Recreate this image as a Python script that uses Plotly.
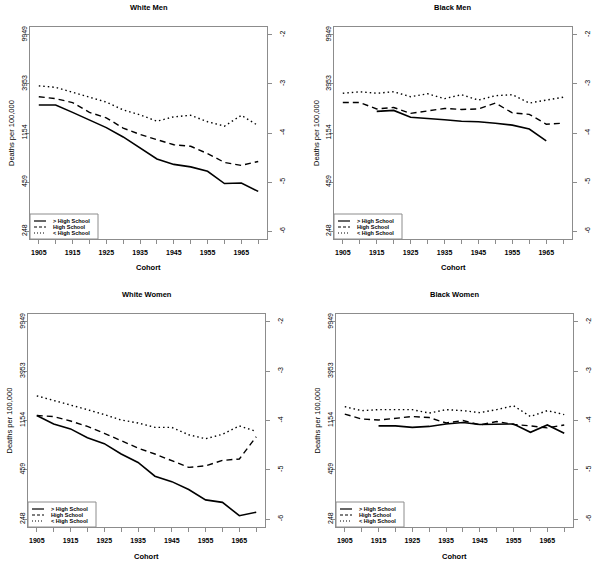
import plotly.graph_objects as go

cohorts = [1905, 1910, 1915, 1920, 1925, 1930, 1935, 1940, 1945, 1950, 1955, 1960, 1965, 1970]
group_labels = ["> High School", "High School", "< High School"]
left_tick_vals = [-2, -3, -4, -5, -6]
left_tick_text = ["9949", "3953", "1154", "459", "248"]
right_tick_text = ["-2", "-3", "-4", "-5", "-6"]
x_tick_vals = list(range(1905, 1971, 5))
x_tick_text = [str(v) if (v - 1905) % 10 == 0 else "" for v in x_tick_vals]

white_men_gt = [-3.43, -3.43, -3.58, -3.73, -3.89, -4.08, -4.31, -4.53, -4.64, -4.69, -4.78, -5.03, -5.02, -5.19]
white_men_hs = [-3.26, -3.30, -3.38, -3.58, -3.69, -3.90, -4.03, -4.14, -4.24, -4.27, -4.42, -4.60, -4.66, -4.58]
white_men_lt = [-3.04, -3.07, -3.17, -3.27, -3.37, -3.53, -3.63, -3.76, -3.67, -3.64, -3.77, -3.86, -3.64, -3.85]

black_men_gt = [None, None, -3.56, -3.54, -3.68, -3.70, -3.73, -3.76, -3.77, -3.80, -3.84, -3.92, -4.16, None]
black_men_hs = [-3.38, -3.38, -3.51, -3.48, -3.60, -3.55, -3.50, -3.52, -3.51, -3.39, -3.59, -3.62, -3.82, -3.80]
black_men_lt = [-3.19, -3.16, -3.19, -3.16, -3.26, -3.20, -3.30, -3.22, -3.33, -3.24, -3.22, -3.39, -3.33, -3.27]

white_women_gt = [-3.90, -4.07, -4.17, -4.35, -4.47, -4.68, -4.85, -5.13, -5.24, -5.40, -5.61, -5.66, -5.93, -5.86]
white_women_hs = [-3.90, -3.92, -4.01, -4.12, -4.26, -4.41, -4.56, -4.68, -4.81, -4.95, -4.92, -4.81, -4.78, -4.33]
white_women_lt = [-3.50, -3.59, -3.68, -3.78, -3.88, -3.99, -4.05, -4.14, -4.14, -4.29, -4.37, -4.28, -4.11, -4.22]

black_women_gt = [None, None, -4.11, -4.11, -4.14, -4.12, -4.07, -4.04, -4.08, -4.08, -4.07, -4.24, -4.09, -4.26]
black_women_hs = [-3.87, -3.97, -3.99, -3.95, -3.92, -3.94, -4.05, -4.00, -4.09, -4.02, -4.08, -4.11, -4.15, -4.09]
black_women_lt = [-3.72, -3.80, -3.78, -3.78, -3.78, -3.85, -3.78, -3.80, -3.84, -3.78, -3.70, -3.92, -3.80, -3.88]

W, H = 601, 565
FONT = "Liberation Sans, Arial, sans-serif"
GRAY = "#8c8c8c"

panels = [
    dict(title="White Men", series=[white_men_gt, white_men_hs, white_men_lt],
         px=(30, 267), py=(27, 239), ylab_x=11),
    dict(title="Black Men", series=[black_men_gt, black_men_hs, black_men_lt],
         px=(334, 572), py=(27, 239), ylab_x=316),
    dict(title="White Women", series=[white_women_gt, white_women_hs, white_women_lt],
         px=(28, 265), py=(314, 527), ylab_x=9),
    dict(title="Black Women", series=[black_women_gt, black_women_hs, black_women_lt],
         px=(336, 573), py=(314, 527), ylab_x=317),
]

dashes = ["solid", "6px,4px", "1.5px,3px"]

fig = go.Figure()
layout = dict(
    width=W, height=H, margin=dict(l=0, r=0, t=0, b=0),
    paper_bgcolor="white", plot_bgcolor="white", showlegend=False,
    font=dict(family=FONT, size=7, color="black"),
)
annotations = []
shapes = []

for i, p in enumerate(panels, start=1):
    xa = "x" if i == 1 else f"x{i}"
    yl_n = 2 * i - 1
    yr_n = 2 * i
    yl = "y" if yl_n == 1 else f"y{yl_n}"
    yr = f"y{yr_n}"
    xdom = [p["px"][0] / W, p["px"][1] / W]
    ydom = [1 - p["py"][1] / H, 1 - p["py"][0] / H]

    for vals, dash, name in zip(p["series"], dashes, group_labels):
        fig.add_trace(go.Scatter(
            x=cohorts, y=vals, mode="lines", name=name,
            line=dict(color="black", width=1.4 if dash != "solid" else 1.6, dash=dash),
            xaxis=xa, yaxis=yl, connectgaps=False, hoverinfo="skip"))
    # invisible trace so the right-hand axis gets drawn
    fig.add_trace(go.Scatter(x=[cohorts[0]], y=[left_tick_vals[0]], mode="markers",
                             marker=dict(opacity=0), xaxis=xa, yaxis=yr,
                             hoverinfo="skip", showlegend=False))

    xkey = "xaxis" if i == 1 else f"xaxis{i}"
    ylkey = "yaxis" if yl_n == 1 else f"yaxis{yl_n}"
    yrkey = f"yaxis{yr_n}"
    layout[xkey] = dict(
        domain=xdom, anchor=yl, range=[1902.4, 1972.6],
        tickmode="array", tickvals=x_tick_vals, ticktext=x_tick_text,
        ticks="outside", ticklen=4, tickcolor=GRAY, tickwidth=1,
        showline=True, linecolor=GRAY, linewidth=1, mirror=True,
        showgrid=False, zeroline=False, ticklabelstandoff=3,
        tickfont=dict(family=FONT, size=7, color="black", weight="bold"),
    )
    layout[ylkey] = dict(
        domain=ydom, anchor=xa, range=[-6.16, -1.84],
        tickmode="array", tickvals=left_tick_vals, ticktext=left_tick_text,
        ticks="outside", ticklen=4, tickcolor=GRAY, tickwidth=1,
        showline=True, linecolor=GRAY, linewidth=1,
        showgrid=False, zeroline=False, tickangle=-90, ticklabelstandoff=-5,
        tickfont=dict(family=FONT, size=7, color="black"),
    )
    layout[yrkey] = dict(
        domain=ydom, anchor=xa, overlaying=yl, side="right", range=[-6.16, -1.84],
        tickmode="array", tickvals=left_tick_vals, ticktext=right_tick_text,
        ticks="outside", ticklen=4, tickcolor=GRAY, tickwidth=1,
        showline=True, linecolor=GRAY, linewidth=1,
        showgrid=False, zeroline=False, tickangle=-90, ticklabelstandoff=5,
        tickfont=dict(family=FONT, size=7, color="black"),
    )

    cx = (p["px"][0] + p["px"][1]) / 2 / W
    cy = 1 - (p["py"][0] + p["py"][1]) / 2 / H
    annotations.append(dict(text="<b>" + p["title"] + "</b>", x=cx, y=1 - (p["py"][0] - 20) / H,
                            xref="paper", yref="paper", showarrow=False,
                            font=dict(family=FONT, size=7.5), xanchor="center", yanchor="middle"))
    annotations.append(dict(text="<b>Cohort</b>", x=cx, y=1 - (p["py"][1] + 29) / H,
                            xref="paper", yref="paper", showarrow=False,
                            font=dict(family=FONT, size=7.5), xanchor="center", yanchor="middle"))
    annotations.append(dict(text="Deaths per 100,000", x=p["ylab_x"] / W, y=cy,
                            xref="paper", yref="paper", showarrow=False, textangle=-90,
                            font=dict(family=FONT, size=7.5), xanchor="center", yanchor="middle"))

    # legend box (bottom-left corner)
    pw = p["px"][1] - p["px"][0]
    ph = p["py"][1] - p["py"][0]
    dx = f"{xa} domain"
    dy = f"{yl} domain"
    shapes.append(dict(type="rect", xref=dx, yref=dy, x0=0, x1=68 / pw, y0=0, y1=25 / ph,
                       line=dict(color=GRAY, width=1), fillcolor="rgba(0,0,0,0)"))
    for k, (dash, name) in enumerate(zip(dashes, group_labels)):
        yy = (18 - 6 * k) / ph
        shapes.append(dict(type="line", xref=dx, yref=dy, x0=4 / pw, x1=16 / pw, y0=yy, y1=yy,
                           line=dict(color="black", width=1.2,
                                     dash=["solid", "3px,2px", "1px,2px"][k])))
        annotations.append(dict(text=name, xref=dx, yref=dy, x=21 / pw, y=yy,
                                showarrow=False, xanchor="left", yanchor="middle",
                                font=dict(family=FONT, size=5.5, color="black", weight="bold")))

layout["annotations"] = annotations
layout["shapes"] = shapes
fig.update_layout(**layout)
fig.write_html("out.html", config={"displayModeBar": False},
               post_script="document.body.style.margin='0px';")
